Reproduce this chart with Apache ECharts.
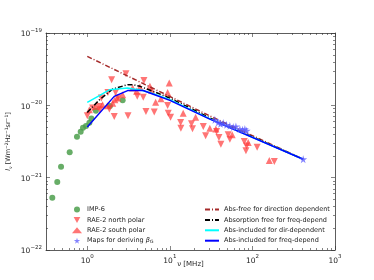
<!DOCTYPE html>
<html><head><meta charset="utf-8">
<script src="https://cdn.jsdelivr.net/npm/echarts@6/dist/echarts.min.js"></script>
<style>html,body{margin:0;padding:0;background:#fff}#c{width:374px;height:280px}</style>
</head><body><div id="c"></div>
<script>
// ---- data ----
const impFreq = [0.377,0.433,0.481,0.612,0.75,0.832,0.887,0.964,1.06,1.12,1.27,1.88,2.68];
const impI    = [5.27e-22,8.7e-22,1.42e-21,2.24e-21,3.68e-21,4.32e-21,4.9e-21,5.2e-21,5.75e-21,6.6e-21,8.4e-21,9.8e-21,1.18e-20];

const northFreq = [1.97,2.94,4.85,1.78,2.20,1.48,1.40,1.85,2.35,1.0,1.16,1.42,2.12,3.11,4.03,4.76,5.13,6.47,9.39,9.57,10.2,13.5,13.6,18.3,18.8,25.4,27.1,36.8,39.3,41.5,50.9,53.3,79.6,84.9,83.4,114,184];
const northI    = [2.26e-20,2.74e-20,2.21e-20,1.51e-20,1.51e-20,1.26e-20,9.66e-21,8.87e-21,1.26e-20,7.18e-21,9.16e-21,8.69e-21,7.02e-21,7.18e-21,1.33e-20,1.29e-20,8.24e-21,8.06e-21,9.98e-21,7.8e-21,6.87e-21,5.8e-21,4.84e-21,5.56e-21,4.74e-21,5.1e-21,3.79e-21,4.35e-21,3.6e-21,2.9e-21,3.92e-21,3.41e-21,3.16e-21,2.75e-21,2.35e-21,2.64e-21,1.67e-21];

const southFreq = [1.06,1.27,1.53,1.75,2.03,2.16,2.33,2.68,3.54,3.96,4.34,5.74,6.01,6.72,7.8,9.84,9.39,14.5,20.5,30.5,36.1,56.9,88.9,160];
const southI    = [8.69e-21,9.66e-21,1.02e-20,9.87e-21,1.07e-20,1.19e-20,1.26e-20,1.40e-20,1.73e-20,1.56e-20,1.79e-20,1.83e-20,1.61e-20,1.10e-20,1.23e-20,2.03e-20,1.51e-20,7.8e-21,6.87e-21,4.84e-21,4.69e-21,3.92e-21,3.06e-21,1.73e-21];

const mapFreq = [35.1,38.5,41.1,44.3,48.6,53.3,58.6,63.1,70.5,76,81,85,412];
const mapI    = [6.3e-21,5.8e-21,5.55e-21,5.68e-21,5.38e-21,5.21e-21,5.0e-21,5.1e-21,4.69e-21,4.6e-21,4.69e-21,4.45e-21,1.8e-21];

const absFreeDirFreq = [1.0,4.0,30,412];
const absFreeDirI    = [4.75e-20,2.2e-20,7.2e-21,1.8e-21];

const absFreeFreqFreq = [1.0,1.40,2.03,3.08,3.6,4.34,6.3,10,16,30.5,412];
const absFreeFreqI    = [7.98e-21,1.19e-20,1.68e-20,1.93e-20,1.93e-20,1.83e-20,1.56e-20,1.26e-20,9.66e-21,6.7e-21,1.8e-21];

const absInclDirFreq = [1.0,1.40,1.85,3.08,3.6,4.34,6.3,10,30.5,412];
const absInclDirI    = [1.10e-20,1.36e-20,1.64e-20,1.73e-20,1.68e-20,1.64e-20,1.45e-20,1.2e-20,6.5e-21,1.8e-21];

const absInclFreqFreq = [1.0,2.12,3.08,4.76,6.3,10,30.5,412];
const absInclFreqI    = [5.0e-21,1.33e-20,1.6e-20,1.6e-20,1.42e-20,1.17e-20,6.45e-21,1.8e-21];

const xMajorTicks = [1, 10, 100, 1000];
const yMajorTicks = [1e-22, 1e-21, 1e-20, 1e-19];
const xMinorTicks = [0.4,0.5,0.6,0.7,0.8,0.9,2,3,4,5,6,7,8,9,20,30,40,50,60,70,80,90,200,300,400,500,600,700,800,900];
const yMinorTicks = [2e-22,3e-22,4e-22,5e-22,6e-22,7e-22,8e-22,9e-22,2e-21,3e-21,4e-21,5e-21,6e-21,7e-21,8e-21,9e-21,2e-20,3e-20,4e-20,5e-20,6e-20,7e-20,8e-20,9e-20];

// ---- chart ----
const pair = (xs, ys) => xs.map((x, i) => [x, ys[i]]);
const FONT = 'DejaVu Sans';
const AX = '#333';
const fmtPow = v => {
  const e = Math.round(Math.log10(v));
  return '{b|10}{s|' + (e < 0 ? '\u2212' + (-e) : e) + '}';
};
const tickRich = {
  b: {fontSize: 7.5, fontFamily: FONT, color: '#222', lineHeight: 11, verticalAlign: 'bottom'},
  s: {fontSize: 5.5, fontFamily: FONT, color: '#222', lineHeight: 11, verticalAlign: 'top'}
};
const XMIN = Math.pow(10, -0.5), XMAX = 1000, YMIN = 1e-22, YMAX = 1e-19;
const star = 'path://M50,0 L61,35 L98,35 L68,57 L79,91 L50,70 L21,91 L32,57 L2,35 L39,35 Z';
const downTri = 'path://M0,0 L10,0 L5,9 Z';

function plainAxis(pos, min, max, tickVals, len) {
  return {
    type: 'log', logBase: 10, min, max, position: pos,
    axisLine: {show: len > 3, onZero: false, lineStyle: {color: AX, width: 0.8}},
    axisLabel: {show: false},
    splitLine: {show: false},
    axisTick: {show: true, inside: true, length: len, customValues: tickVals, lineStyle: {color: AX, width: 0.6}}
  };
}

const xMain = {
  type: 'log', logBase: 10, min: XMIN, max: XMAX, position: 'bottom',
  axisLine: {onZero: false, lineStyle: {color: AX, width: 0.8}},
  axisTick: {inside: true, length: 4, customValues: xMajorTicks, lineStyle: {color: AX, width: 0.6}},
  axisLabel: {formatter: fmtPow, rich: tickRich, margin: 4, customValues: xMajorTicks},
  splitLine: {show: false},
  name: 'ν [MHz]', nameLocation: 'middle', nameGap: 11, nameMoveOverlap: false,
  nameTextStyle: {fontFamily: FONT, fontSize: 7, color: '#222'}
};
const yMain = {
  type: 'log', logBase: 10, min: YMIN, max: YMAX, position: 'left',
  axisLine: {onZero: false, lineStyle: {color: AX, width: 0.8}},
  axisTick: {inside: true, length: 4, customValues: yMajorTicks, lineStyle: {color: AX, width: 0.6}},
  axisLabel: {formatter: fmtPow, rich: tickRich, margin: 4, customValues: yMajorTicks},
  splitLine: {show: false},
  name: '{i|I}{sub|ν} [Wm{sup|\u22122}Hz{sup|\u22121}sr{sup|\u22121}]',
  nameLocation: 'middle', nameGap: 33, nameRotate: 90, nameMoveOverlap: false,
  nameTextStyle: {
    fontFamily: FONT, fontSize: 6.5, color: '#222',
    rich: {
      i: {fontStyle: 'italic', fontSize: 6.5, fontFamily: FONT, color: '#222', lineHeight: 9},
      sub: {fontSize: 4.5, fontFamily: FONT, color: '#222', lineHeight: 9, verticalAlign: 'bottom'},
      sup: {fontSize: 4.5, fontFamily: FONT, color: '#222', lineHeight: 9, verticalAlign: 'top'}
    }
  }
};

const lineSeries = (name, xs, ys, color, dash) => ({
  name, type: 'line', data: pair(xs, ys), symbol: 'none', z: 3,
  lineStyle: {color, width: 1.5, type: dash || 'solid'}, itemStyle: {color}
});

const option = {
  animation: false,
  textStyle: {fontFamily: FONT},
  grid: {left: 46, right: 39, top: 33, bottom: 30, containLabel: false, outerBoundsMode: 'none'},
  xAxis: [
    xMain,
    plainAxis('top', XMIN, XMAX, xMajorTicks, 4),
    plainAxis('bottom', XMIN, XMAX, xMinorTicks, 2),
    plainAxis('top', XMIN, XMAX, xMinorTicks, 2)
  ],
  yAxis: [
    yMain,
    plainAxis('right', YMIN, YMAX, yMajorTicks, 4),
    plainAxis('left', YMIN, YMAX, yMinorTicks, 2),
    plainAxis('right', YMIN, YMAX, yMinorTicks, 2)
  ],
  legend: [
    {
      data: ['IMP-6', {name: 'RAE-2 north polar', icon: downTri}, 'RAE-2 south polar', 'Maps for deriving βG'],
      orient: 'vertical', left: 72, top: 206, padding: 0, itemWidth: 10, itemHeight: 6, itemGap: 3.4, itemTextGap: 5,
      textStyle: {fontFamily: FONT, fontSize: 6.5, color: '#222',
        rich: {i: {fontStyle: 'italic', fontSize: 6.5, fontFamily: FONT, color: '#222'},
               sub: {fontSize: 4.5, fontFamily: FONT, color: '#222', verticalAlign: 'bottom'}}},
      formatter: n => n === 'Maps for deriving βG' ? 'Maps for deriving {i|β}{sub|G}' : n
    },
    {
      data: ['Abs-free for direction dependent', 'Absorption free for freq-depend', 'Abs-included for dir-dependent', 'Abs-included for freq-depend'],
      orient: 'vertical', left: 204, top: 206, padding: 0, itemWidth: 14, itemHeight: 6, itemGap: 3.4, itemTextGap: 7,
      itemStyle: {opacity: 0},
      textStyle: {fontFamily: FONT, fontSize: 6.5, color: '#222'}
    }
  ],
  series: [
    {name: 'IMP-6', type: 'scatter', data: pair(impFreq, impI), symbol: 'circle', symbolSize: 6,
     itemStyle: {color: '#4c9f4c', opacity: 0.85}, z: 2},
    {name: 'RAE-2 north polar', type: 'scatter', data: pair(northFreq, northI), symbol: 'triangle', symbolRotate: 180, symbolSize: 7,
     itemStyle: {color: '#ff3b3b', opacity: 0.7}, z: 2},
    {name: 'RAE-2 south polar', type: 'scatter', data: pair(southFreq, southI), symbol: 'triangle', symbolSize: 7,
     itemStyle: {color: '#ff3b3b', opacity: 0.7}, z: 2},
    lineSeries('Abs-free for direction dependent', absFreeDirFreq, absFreeDirI, '#a52a2a', [5, 2, 1, 2]),
    lineSeries('Absorption free for freq-depend', absFreeFreqFreq, absFreeFreqI, '#000000', [5, 2, 1, 2]),
    lineSeries('Abs-included for dir-dependent', absInclDirFreq, absInclDirI, '#00ffff'),
    lineSeries('Abs-included for freq-depend', absInclFreqFreq, absInclFreqI, '#0000ff'),
    {name: 'Maps for deriving βG', type: 'scatter', data: pair(mapFreq, mapI), symbol: star, symbolSize: 8,
     itemStyle: {color: '#5a5aff', opacity: 0.75}, z: 4}
  ]
};
const chart = echarts.init(document.getElementById('c'), null, {renderer: 'canvas'});
chart.setOption(option);
</script></body></html>
